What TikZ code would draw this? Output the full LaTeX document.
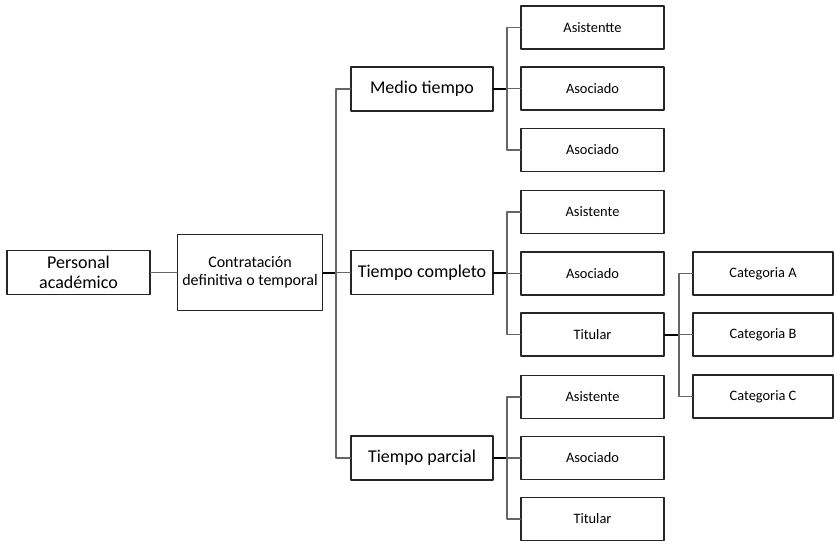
\documentclass[tikz,border=0pt]{standalone}
\usepackage{fontspec}
\setmainfont{Carlito}
\begin{document}
\begin{tikzpicture}[x=1pt, y=-1pt, line join=round, line cap=round,
  caja/.style={draw=black!85, line width=1.6pt, fill=white, minimum width=143pt, minimum height=43pt, inner sep=1pt, align=center, font=\fontsize{14.4}{16}\selectfont},
  grande/.style={caja, minimum width=142pt, minimum height=44pt, font=\fontsize{18}{20}\selectfont},
  rama/.style={draw=black!60, line width=1.8pt},
  tronco/.style={draw=black, line width=2pt}]
\useasboundingbox (0,0) rectangle (834,544);
\node[grande, minimum width=143pt] (pa) at (78.5,272.5) {Personal\\académico};
\node[caja, minimum width=145pt, minimum height=76pt, font=\fontsize{16}{18}\selectfont] (ct) at (250,272.5) {Contratación\\definitiva o temporal};
\node[grande] (mt) at (422,89) {Medio tiempo};
\node[grande] (tc) at (422,272.5) {Tiempo completo};
\node[grande] (tp) at (422,458) {Tiempo parcial};
\node[caja] (m1) at (592.5,27.5) {Asistentte};
\node[caja] (m2) at (592.5,88.5) {Asociado};
\node[caja] (m3) at (592.5,150) {Asociado};
\node[caja] (c1) at (592.5,212) {Asistente};
\node[caja] (c2) at (592.5,273.5) {Asociado};
\node[caja] (c3) at (592.5,334.5) {Titular};
\node[caja] (p1) at (592.5,397) {Asistente};
\node[caja] (p2) at (592.5,458) {Asociado};
\node[caja] (p3) at (592.5,519) {Titular};
\node[caja, minimum width=140pt] (ka) at (763,273.5) {Categoria A};
\node[caja, minimum width=140pt] (kb) at (763,334.5) {Categoria B};
\node[caja, minimum width=140pt] (kc) at (763,396.5) {Categoria C};
\coordinate (n0) at (336,272.5);
\coordinate (n1) at (507,89);
\coordinate (n2) at (507,272.5);
\coordinate (n3) at (507,458);
\coordinate (n4) at (679,334.5);
\draw[rama] (pa.east) -- (ct.west);
\draw[tronco] (ct.east) -- (n0);
\foreach \s in {mt,tc,tp} \draw[rama] (n0) |- (\s.west);
\draw[tronco] (mt.east) -- (n1);
\foreach \s in {m1,m2,m3} \draw[rama] (n1) |- (\s.west);
\draw[tronco] (tc.east) -- (n2);
\foreach \s in {c1,c2,c3} \draw[rama] (n2) |- (\s.west);
\draw[tronco] (tp.east) -- (n3);
\foreach \s in {p1,p2,p3} \draw[rama] (n3) |- (\s.west);
\draw[tronco] (c3.east) -- (n4);
\foreach \s in {ka,kb,kc} \draw[rama] (n4) |- (\s.west);
\end{tikzpicture}
\end{document}
